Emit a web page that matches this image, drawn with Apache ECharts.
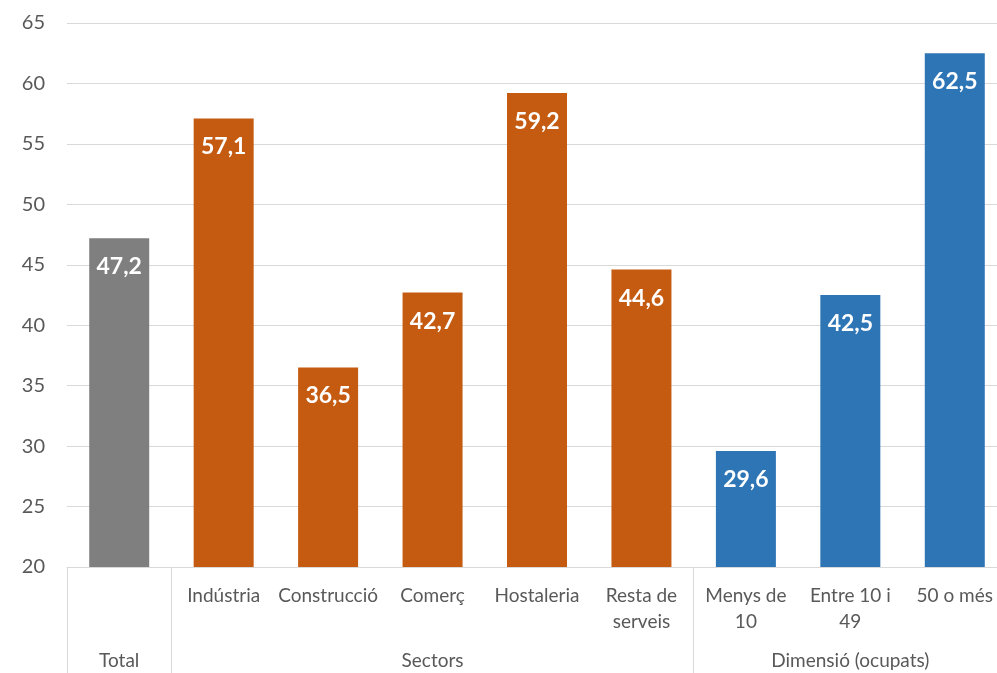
<!DOCTYPE html>
<html>
<head>
<meta charset="utf-8">
<script src="https://cdn.jsdelivr.net/npm/echarts@6/dist/echarts.min.js"></script>
<style>
  html, body { margin: 0; padding: 0; background: #fff; overflow: hidden; }
  #chart { width: 1010px; height: 673px; }
</style>
</head>
<body>
<div id="chart"></div>
<script>
// categories (first level) and groups (second level)
let categories = ['', 'Indústria', 'Construcció', 'Comerç', 'Hostaleria', 'Resta de\nserveis', 'Menys de\n10', 'Entre 10 i\n49', '50 o més'];
let groupLabels = ['Total', '', '', 'Sectors', '', '', '', 'Dimensió (ocupats)', ''];
let values = [47.2, 57.1, 36.5, 42.7, 59.2, 44.6, 29.6, 42.5, 62.5];
let barColors = ['#7f7f7f', '#c55a11', '#c55a11', '#c55a11', '#c55a11', '#c55a11', '#2e75b6', '#2e75b6', '#2e75b6'];
let separatorIdx = [0, 1, 6, 9];

let chart = echarts.init(document.getElementById('chart'));

let font = 'Lato, "Open Sans", sans-serif';
let data = [];
for (let i = 0; i < values.length; i++) {
    data.push({ value: values[i], itemStyle: { color: barColors[i] } });
}

let option = {
    animation: false,
    grid: {
        left: 67,
        top: 23,
        width: 940,
        bottom: 106,
        containLabel: false
    },
    xAxis: [{
        type: 'category',
        data: categories,
        position: 'bottom',
        axisLine: { lineStyle: { color: '#d9d9d9', width: 1 } },
        axisTick: {
            show: true,
            length: 110,
            interval: function (idx) { return separatorIdx.indexOf(idx) >= 0; },
            lineStyle: { color: '#d9d9d9', width: 1 }
        },
        axisLabel: {
            interval: 0,
            color: '#595959',
            fontFamily: font,
            fontSize: 19,
            lineHeight: 26,
            margin: 16,
            verticalAlign: 'top'
        }
    }, {
        type: 'category',
        data: groupLabels,
        position: 'bottom',
        axisLine: { show: false },
        axisTick: { show: false },
        axisLabel: {
            interval: 0,
            color: '#595959',
            fontFamily: font,
            fontSize: 19,
            margin: 84,
            verticalAlign: 'top'
        }
    }],
    yAxis: {
        type: 'value',
        min: 20,
        max: 65,
        interval: 5,
        axisLine: { show: false },
        axisTick: { show: false },
        splitLine: { lineStyle: { color: '#d9d9d9', width: 1 } },
        axisLabel: {
            color: '#595959',
            fontFamily: font,
            fontSize: 20,
            margin: 22
        }
    },
    series: [{
        type: 'bar',
        xAxisIndex: 0,
        barWidth: 60,
        data: data,
        label: {
            show: true,
            position: 'insideTop',
            distance: 17,
            color: '#ffffff',
            fontFamily: font,
            fontWeight: 'bold',
            fontSize: 23,
            formatter: function (p) { return p.value.toFixed(1).replace('.', ','); }
        }
    }]
};

chart.setOption(option);
</script>
</body>
</html>
